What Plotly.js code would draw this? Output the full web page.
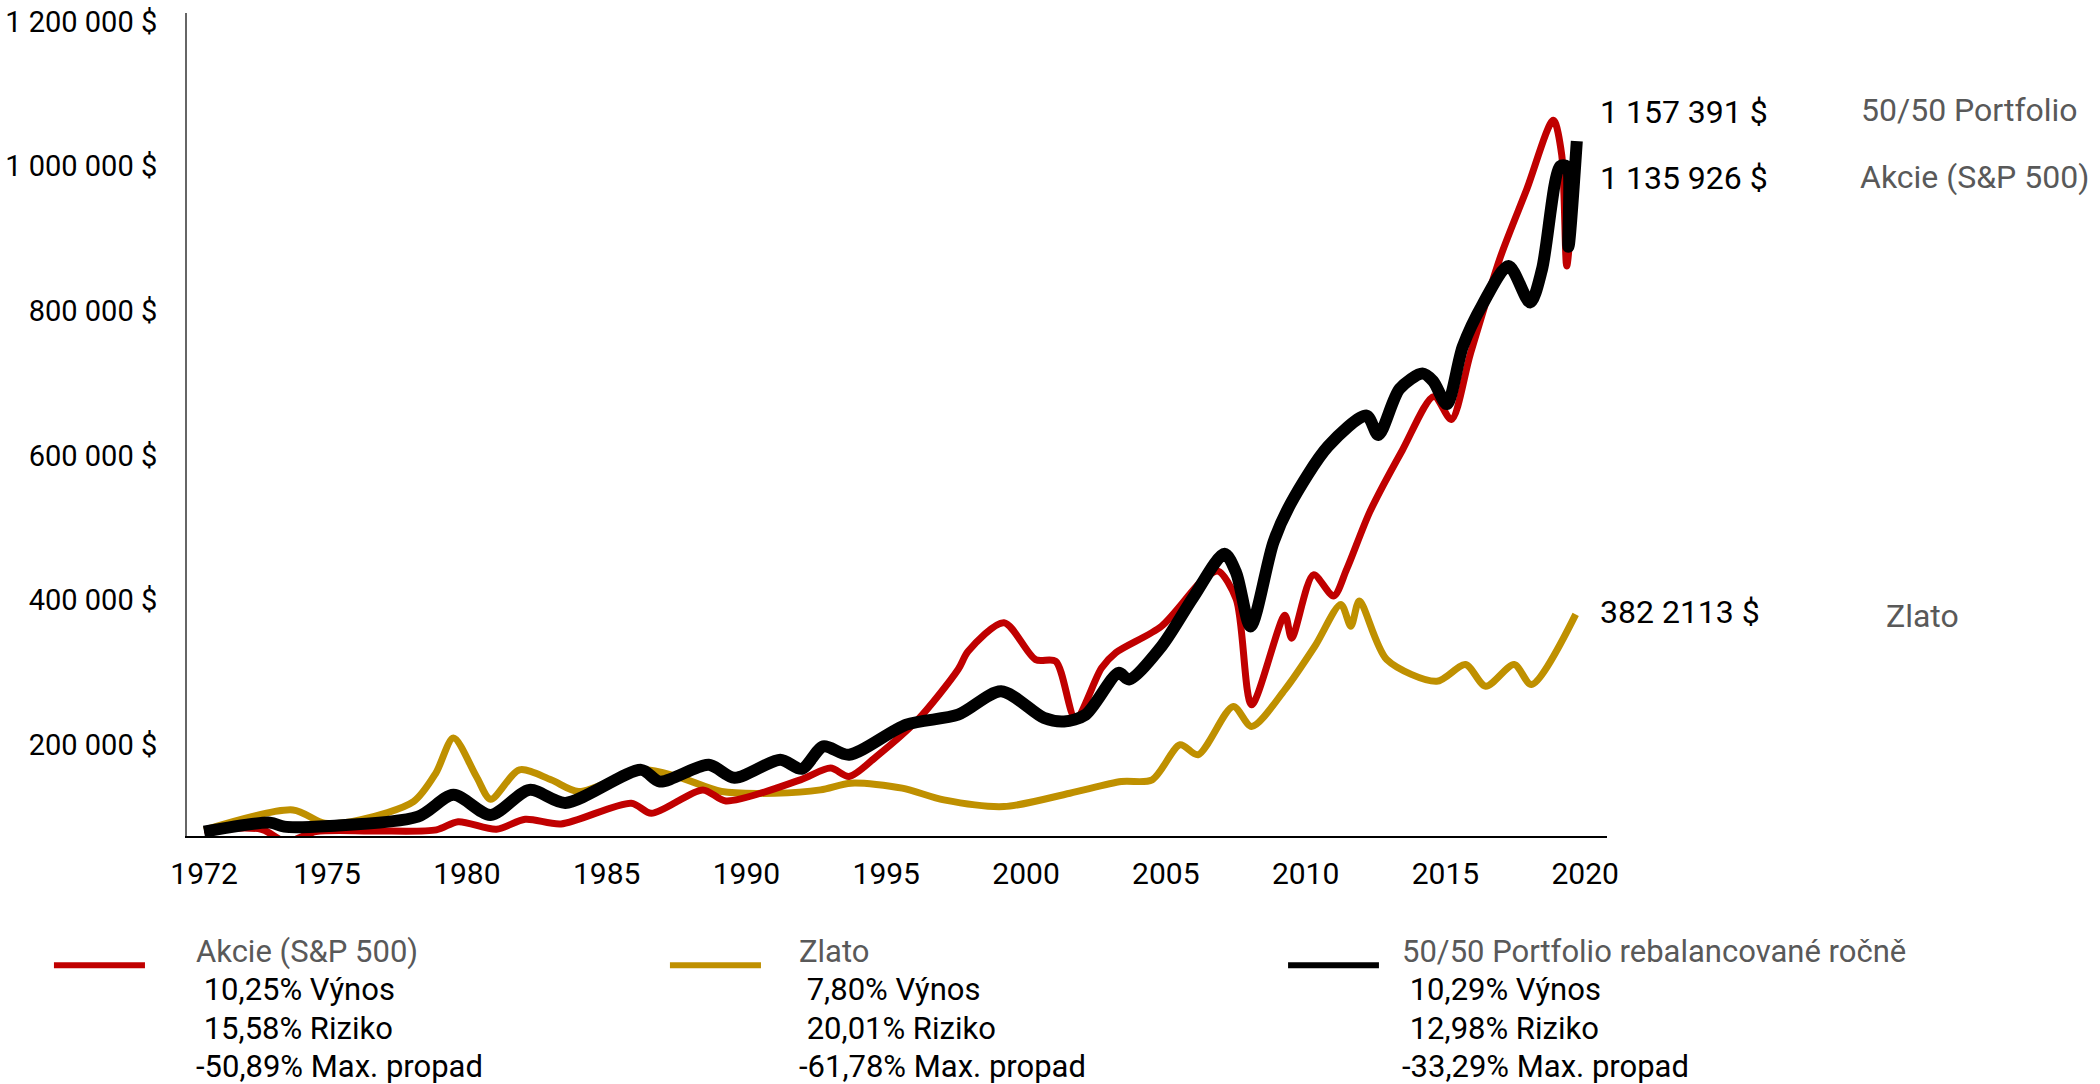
<!DOCTYPE html>
<html>
<head>
<meta charset="utf-8">
<script src="https://cdn.plot.ly/plotly-3.0.1.min.js"></script>
<style>html,body{margin:0;padding:0;background:#fff;}#chart{width:2100px;height:1084px;}</style>
</head>
<body>
<div id="chart"></div>
<script>
// ---- Data (x = position on the chart's year axis, values in $) ----
const stockYears = [1970.60, 1972.65, 1973.53, 1974.60, 1976.65, 1978.91, 1979.69, 1981.06, 1982.09, 1983.37, 1985.88, 1986.60, 1988.44, 1989.26, 1991.93, 1993.01, 1993.67, 1994.65, 1996.13, 1997.57, 1997.93, 1999.21, 2000.34, 2001.06, 2001.77, 2002.70, 2003.21, 2004.85, 2006.34, 2006.87, 2007.52, 2008.07, 2009.26, 2009.50, 2010.28, 2011.00, 2011.47, 2012.30, 2013.46, 2014.59, 2015.21, 2015.89, 2016.95, 2017.91, 2018.86, 2019.16, 2019.34, 2019.56];
const stockValues = [81800, 82800, 65600, 79500, 80500, 82000, 93300, 82800, 96700, 90200, 118900, 105000, 137300, 122000, 151200, 167400, 155800, 183500, 234400, 303800, 329000, 368500, 317600, 315300, 236000, 306000, 327000, 363800, 428600, 440000, 400800, 255200, 379000, 347200, 434700, 405400, 442600, 522200, 607200, 681600, 649700, 740000, 872600, 968100, 1063800, 1016000, 862000, 960000];

const goldYears = [1970.60, 1973.78, 1974.91, 1976.17, 1978.09, 1978.89, 1979.52, 1980.34, 1980.85, 1981.88, 1983.01, 1984.00, 1986.24, 1987.52, 1989.11, 1991.01, 1992.65, 1993.74, 1995.57, 1997.06, 1999.21, 2001.57, 2003.41, 2004.51, 2005.51, 2006.15, 2007.41, 2008.07, 2009.26, 2010.33, 2011.26, 2011.62, 2011.92, 2012.90, 2014.69, 2015.72, 2016.44, 2017.46, 2018.08, 2019.66];
const goldValues = [81800, 109600, 91100, 95700, 121000, 160500, 209000, 155800, 124400, 165000, 151200, 135000, 165000, 155800, 135000, 132700, 137300, 146600, 139700, 123400, 114200, 132700, 148800, 151200, 199700, 185900, 252800, 225100, 276000, 336000, 393900, 363800, 398500, 317600, 287500, 310700, 280600, 310700, 283000, 380000];

const portYears = [1970.60, 1972.96, 1973.47, 1975.06, 1978.25, 1979.52, 1980.85, 1982.24, 1983.52, 1986.24, 1986.90, 1988.65, 1989.57, 1991.21, 1991.98, 1992.75, 1993.67, 1995.72, 1997.57, 1999.11, 2000.64, 2001.36, 2002.13, 2003.31, 2003.68, 2004.85, 2005.98, 2007.10, 2007.52, 2008.03, 2008.85, 2009.46, 2010.80, 2012.18, 2012.60, 2013.36, 2014.18, 2014.56, 2015.05, 2015.62, 2016.33, 2017.26, 2018.03, 2018.45, 2019.10, 2019.34, 2019.40, 2019.70];
const portValues = [79500, 92000, 86400, 87400, 100300, 130400, 102600, 137300, 119300, 165000, 148800, 172000, 154000, 179000, 166400, 197400, 185900, 227500, 241300, 273700, 236800, 232000, 241300, 299200, 290000, 336000, 403600, 463800, 437300, 363400, 480000, 533000, 612500, 655000, 628300, 692000, 713300, 702800, 671000, 750400, 808900, 862000, 811500, 856600, 1000000, 1000000, 888500, 1034700];

const xTickYears = [1972, 1975, 1980, 1985, 1990, 1995, 2000, 2005, 2010, 2015, 2020];
const yTickValues = [200000, 400000, 600000, 800000, 1000000, 1200000];

const seriesNames = ['Akcie (S&P 500)', 'Zlato', '50/50 Portfolio rebalancované ročně'];
const seriesReturns = ['10,25%', '7,80%', '10,29%'];
const seriesRisks = ['15,58%', '20,01%', '12,98%'];
const seriesDrawdowns = ['-50,89%', '-61,78%', '-33,29%'];
const endValueLabels = ['1 157 391 $', '1 135 926 $', '382 2113 $'];
const endNameLabels = ['50/50 Portfolio', 'Akcie (S&P 500)', 'Zlato'];

// ---- Styles ----
const RED = '#C00000', GOLD = '#BF9000', BLACK = '#000000', GREY = '#595959';
const FONT = 'Roboto, "Noto Sans", sans-serif';

function fmtMoney(v) {
  return String(v).replace(/\B(?=(\d{3})+(?!\d))/g, ' ') + ' $';
}

// first label ("1972") sits where the series begin
const xTickVals = [portYears[0]].concat(xTickYears.slice(1));

const traces = [
  {x: goldYears, y: goldValues, mode: 'lines', name: seriesNames[1],
   line: {color: GOLD, width: 7, shape: 'spline', smoothing: 0.8}, hoverinfo: 'skip'},
  {x: stockYears, y: stockValues, mode: 'lines', name: seriesNames[0],
   line: {color: RED, width: 7, shape: 'spline', smoothing: 0.8}, hoverinfo: 'skip'},
  {x: portYears, y: portValues, mode: 'lines', name: seriesNames[2],
   line: {color: BLACK, width: 12, shape: 'spline', smoothing: 0.8}, hoverinfo: 'skip'}
];

const annotations = [];
const shapes = [];

// right-side end labels
const endValY = [0.880, 0.799, 0.272];
const endNameY = [0.882, 0.801, 0.267];
const endNameX = [1.1775, 1.1765, 1.195];
for (let i = 0; i < 3; i++) {
  annotations.push({xref: 'paper', yref: 'paper', x: 0.9937, y: endValY[i], xanchor: 'left', yanchor: 'middle',
    text: endValueLabels[i], showarrow: false, font: {family: FONT, size: 32, color: '#000'}});
  annotations.push({xref: 'paper', yref: 'paper', x: endNameX[i], y: endNameY[i], xanchor: 'left', yanchor: 'middle',
    text: endNameLabels[i], showarrow: false, font: {family: FONT, size: 32, color: GREY}});
}

// bottom legend
const legendColors = [RED, GOLD, BLACK];
const legendTextX = [0.0049, 0.4296, 0.8542];
const legendLineX = [[-0.0937, -0.0296], [0.3401, 0.4042], [0.7754, 0.8394]];
const legendRowY = [-0.1409, -0.1871, -0.2333, -0.2795];
for (let i = 0; i < 3; i++) {
  const rows = [
    {t: seriesNames[i], c: GREY},
    {t: '\u00A0' + seriesReturns[i] + ' Výnos', c: '#000'},
    {t: '\u00A0' + seriesRisks[i] + ' Riziko', c: '#000'},
    {t: seriesDrawdowns[i] + ' Max. propad', c: '#000'}
  ];
  rows.forEach((r, k) => {
    annotations.push({xref: 'paper', yref: 'paper', x: legendTextX[i], y: legendRowY[k], xanchor: 'left', yanchor: 'middle',
      align: 'left', text: r.t, showarrow: false, font: {family: FONT, size: 31, color: r.c}});
  });
  shapes.push({type: 'line', xref: 'paper', yref: 'paper', x0: legendLineX[i][0], x1: legendLineX[i][1],
    y0: -0.157, y1: -0.157, line: {color: legendColors[i], width: 6}});
}

const layout = {
  width: 2100, height: 1084,
  margin: {l: 187, r: 493, t: 13, b: 248},
  paper_bgcolor: '#fff', plot_bgcolor: '#fff',
  showlegend: false,
  font: {family: FONT, size: 28, color: '#000'},
  xaxis: {
    range: [1969.99, 2020.78],
    tickmode: 'array', tickvals: xTickVals, ticktext: xTickYears.map(String),
    showgrid: false, zeroline: false,
    showline: true, linecolor: '#000', linewidth: 2,
    ticks: '', ticklabelstandoff: 10,
    tickfont: {family: FONT, size: 30, color: '#000'}
  },
  yaxis: {
    range: [73500, 1212000],
    tickmode: 'array', tickvals: yTickValues, ticktext: yTickValues.map(fmtMoney),
    showgrid: false, zeroline: false,
    showline: true, linecolor: '#666', linewidth: 2,
    ticks: '', ticklabelstandoff: 22,
    tickfont: {family: FONT, size: 29, color: '#000'}
  },
  annotations: annotations,
  shapes: shapes
};

Plotly.newPlot('chart', traces, layout, {staticPlot: true, displayModeBar: false});
</script>
</body>
</html>
